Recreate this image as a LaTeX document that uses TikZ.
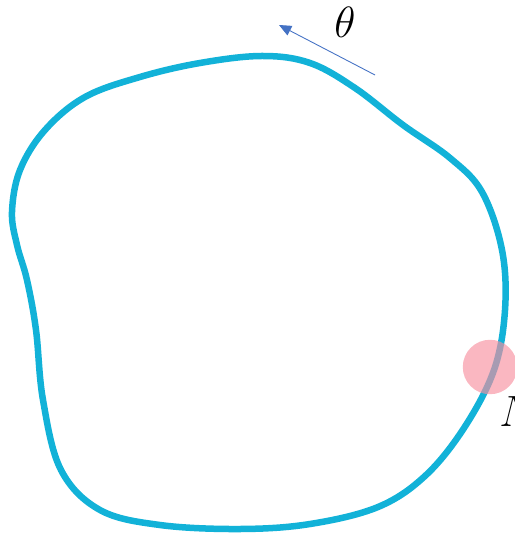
\documentclass[tikz,border=0pt]{standalone}
\usetikzlibrary{arrows.meta}
\definecolor{loopcol}{HTML}{12B2D8}
\definecolor{arrcol}{HTML}{4472C4}
\definecolor{dotcol}{HTML}{F7909F}
\tikzset{
  loopline/.style={draw=loopcol, line width=3.7pt, line join=round},
  dirarrow/.style={draw=arrcol, line width=0.5pt, -{Triangle[length=7pt,width=6pt]}},
  marker/.style={circle, fill=dotcol, fill opacity=0.65, minimum size=31pt, inner sep=0pt},
  biglabel/.style={font=\fontsize{24}{28}\selectfont, inner sep=0pt}
}
\begin{document}
\begin{tikzpicture}[x=0.02cm, y=-0.02cm]
\useasboundingbox (0,0) rectangle (514,536);
\draw[loopline] plot[smooth cycle, tension=0.6] coordinates {
  (17,245) (12,212) (20,170) (45,130) (85,97) (140,77) (200,63) (262,56)
  (310,63) (355,88) (403,125) (450,158) (482,192) (502,250) (505,310)
  (494,370) (464,428) (425,476) (378,507) (310,524) (240,529) (160,525)
  (100,510) (61,470) (43,400) (36,330) (27,280)};
\coordinate (tail) at (375,75);
\coordinate (head) at (279,25);
\draw[dirarrow] (tail) -- (head);
\node[biglabel] (theta) at (345,22) {$\theta$};
\node[marker] (m) at (490,367) {};
\node[biglabel, anchor=west] (N) at (499,412) {$N$};
\end{tikzpicture}
\end{document}
